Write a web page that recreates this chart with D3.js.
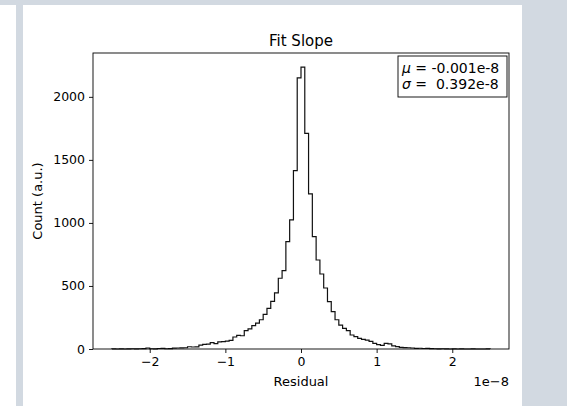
<!DOCTYPE html>
<html>
<head>
<meta charset="utf-8">
<script src="https://cdn.jsdelivr.net/npm/d3@7"></script>
<style>
  body { margin: 0; background: #fff; }
  svg text { font-family: "DejaVu Sans", sans-serif; fill: #000; }
</style>
</head>
<body>
<div id="chart"></div>
<script>
(function(){

  // histogram bin edges (units of 1e-8) and counts per bin
  var binEdges = [-2.5,-2.45,-2.4,-2.35,-2.3,-2.25,-2.2,-2.15,-2.1,-2.05,
    -2.0,-1.95,-1.9,-1.85,-1.8,-1.75,-1.7,-1.65,-1.6,-1.55,
    -1.5,-1.45,-1.4,-1.35,-1.3,-1.25,-1.2,-1.15,-1.1,-1.05,
    -1.0,-0.95,-0.9,-0.85,-0.8,-0.75,-0.7,-0.65,-0.6,-0.55,
    -0.5,-0.45,-0.4,-0.35,-0.3,-0.25,-0.2,-0.15,-0.1,-0.05,
    0.0,0.05,0.1,0.15,0.2,0.25,0.3,0.35,0.4,0.45,
    0.5,0.55,0.6,0.65,0.7,0.75,0.8,0.85,0.9,0.95,
    1.0,1.05,1.1,1.15,1.2,1.25,1.3,1.35,1.4,1.45,
    1.5,1.55,1.6,1.65,1.7,1.75,1.8,1.85,1.9,1.95,
    2.0,2.05,2.1,2.15,2.2,2.25,2.3,2.35,2.4,2.45,2.5]

  var counts = [1,0,1,0,1,2,1,2,3,8,
    2,1,4,5,2,3,7,8,9,10,
    18,16,17,30,36,38,50,42,56,58,
    62,68,95,108,105,145,160,185,205,232,
    275,322,378,445,561,622,852,1024,1415,2150,
    2236,1710,1230,891,706,595,484,375,296,232,
    190,164,146,111,98,85,77,71,60,45,
    35,29,45,40,24,19,13,11,10,8,
    5,6,4,5,3,2,1,2,1,0,
    1,0,1,0,0,1,0,0,0,1]

  var xTicks = [-2, -1, 0, 1, 2]
  var yTicks = [0, 500, 1000, 1500, 2000]

  var title = "Fit Slope"
  var statLines = [["μ", " = -0.001e-8"], ["σ", " =  0.392e-8"]]

  var W = 567, H = 406
  var margin = { top: 53, left: 93 }
  var width = 416, height = 296

  var svg = d3.select("#chart").append("svg")
        .attr("width", W)
        .attr("height", H)

  // page frame (light border bands)
  svg.append("rect").attr("x", 0).attr("y", 0).attr("width", W).attr("height", H).attr("fill", "#fff")
  svg.append("rect").attr("x", 0).attr("y", 0).attr("width", W).attr("height", 5).attr("fill", "#d2d9e1")
  svg.append("rect").attr("x", 16).attr("y", 0).attr("width", 7).attr("height", H).attr("fill", "#d2d9e1")
  svg.append("rect").attr("x", 522).attr("y", 0).attr("width", W - 522).attr("height", H).attr("fill", "#d2d9e1")

  var g = svg.append("g")
        .attr("transform", "translate(" + margin.left + "," + margin.top + ")")

  var x = d3.scaleLinear().domain([-2.75, 2.75]).range([0, width])
  var y = d3.scaleLinear().domain([0, d3.max(counts) * 1.05]).range([height, 0])

  // step outline like matplotlib histtype='step'
  var pts = [[binEdges[0], 0]]
  counts.forEach(function(c, i){
    pts.push([binEdges[i], c])
    pts.push([binEdges[i + 1], c])
  })
  pts.push([binEdges[binEdges.length - 1], 0])

  var line = d3.line()
      .x(function(d){ return x(d[0]) })
      .y(function(d){ return y(d[1]) })

  g.append("path")
    .datum(pts)
    .attr("d", line)
    .attr("fill", "none")
    .attr("stroke", "#111")
    .attr("stroke-width", 1.2)
    .attr("stroke-linejoin", "miter")

  var fmtMinus = function(d){ return String(d).replace("-", "\u2212") }

  var xAxis = g.append("g")
      .attr("transform", "translate(0," + height + ")")
      .call(d3.axisBottom(x).tickValues(xTicks).tickFormat(fmtMinus).tickSize(4).tickPadding(4))
  var yAxis = g.append("g")
      .call(d3.axisLeft(y).tickValues(yTicks).tickFormat(d3.format("d")).tickSize(4).tickPadding(4))

  ;[xAxis, yAxis].forEach(function(a){
    a.select(".domain").remove()
    a.selectAll(".tick line").attr("stroke", "#000").attr("stroke-width", 0.9)
    a.selectAll(".tick text").attr("font-size", "12.5px").attr("font-family", "DejaVu Sans, sans-serif").attr("fill", "#000")
  })

  // spines
  g.append("rect")
    .attr("x", 0).attr("y", 0)
    .attr("width", width).attr("height", height)
    .attr("fill", "none")
    .attr("stroke", "#000")
    .attr("stroke-width", 0.9)

  // title and labels
  svg.append("text")
    .attr("x", margin.left + width / 2).attr("y", 46)
    .attr("text-anchor", "middle")
    .attr("font-size", "15px")
    .text(title)

  svg.append("text")
    .attr("x", margin.left + width / 2).attr("y", 386)
    .attr("text-anchor", "middle")
    .attr("font-size", "13px")
    .text("Residual")

  svg.append("text")
    .attr("x", margin.left + width).attr("y", 386)
    .attr("text-anchor", "end")
    .attr("font-size", "13px")
    .text("1e\u22128")

  svg.append("text")
    .attr("transform", "translate(42," + (margin.top + height / 2) + ") rotate(-90)")
    .attr("text-anchor", "middle")
    .attr("font-size", "13px")
    .text("Count (a.u.)")

  // stats box
  var bx = margin.left + width - 111, by = margin.top + 3
  g.append("rect")
    .attr("x", bx - margin.left).attr("y", by - margin.top)
    .attr("width", 109).attr("height", 41)
    .attr("fill", "#fff")
    .attr("stroke", "#000")
    .attr("stroke-width", 0.9)

  statLines.forEach(function(s, i){
    var t = svg.append("text")
      .attr("x", bx + 4)
      .attr("y", by + 17 + i * 16)
      .attr("font-size", "14px")
    t.append("tspan").attr("font-style", "italic").text(s[0])
    t.append("tspan").attr("xml:space", "preserve").style("white-space", "pre").text(s[1])
  })

})()
</script>
</body>
</html>
